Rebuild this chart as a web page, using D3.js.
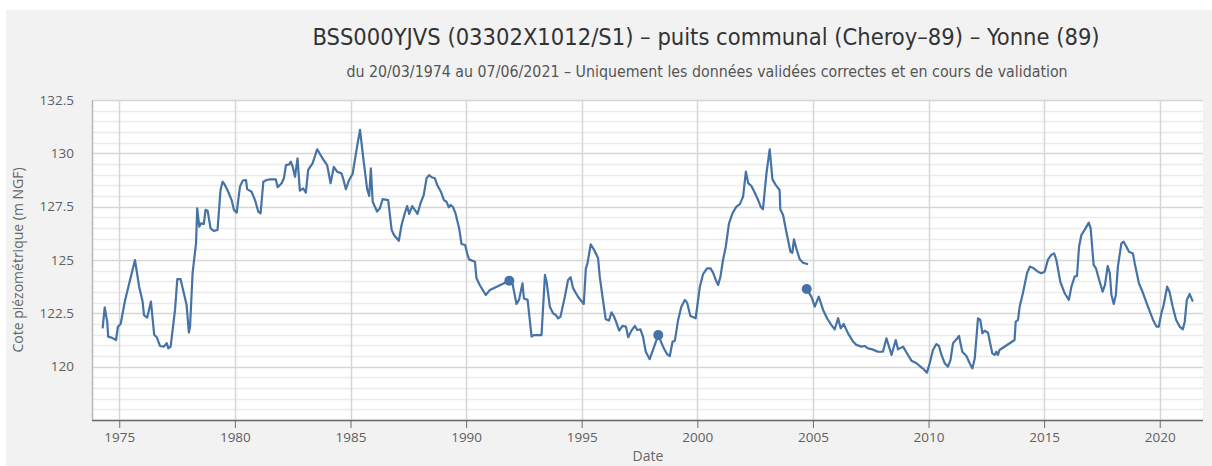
<!DOCTYPE html>
<html>
<head>
<meta charset="utf-8">
<script src="https://cdn.jsdelivr.net/npm/d3@7"></script>
<style>
body { margin: 0; background: #fff; }
svg { display: block; font-family: "Open Sans", "DejaVu Sans", sans-serif; }
.title { font-family: "Liberation Sans Narrow", "DejaVu Sans Condensed", sans-serif; }
</style>
</head>
<body>
<svg id="chart" width="1212" height="466"></svg>
<script>
/* data: decimal years and levels (m NGF) */
var seg1Years = [1974.28,1974.37,1974.48,1974.52,1974.67,1974.86,1974.94,1975.06,1975.25,1975.43,1975.68,1975.86,1976.01,1976.07,1976.21,1976.37,1976.51,1976.62,1976.76,1976.93,1977.05,1977.12,1977.22,1977.41,1977.51,1977.65,1977.91,1978.01,1978.06,1978.17,1978.32,1978.37,1978.46,1978.53,1978.66,1978.73,1978.82,1978.95,1979.09,1979.25,1979.38,1979.47,1979.57,1979.71,1979.86,1979.96,1980.08,1980.22,1980.34,1980.48,1980.53,1980.72,1980.87,1981.01,1981.11,1981.23,1981.37,1981.52,1981.77,1981.85,1982.02,1982.12,1982.21,1982.35,1982.42,1982.50,1982.60,1982.71,1982.81,1982.95,1983.07,1983.17,1983.36,1983.56,1983.68,1983.82,1983.99,1984.14,1984.28,1984.42,1984.61,1984.68,1984.80,1984.94,1985.09,1985.26,1985.41,1985.58,1985.72,1985.81,1985.88,1985.96,1986.15,1986.27,1986.39,1986.63,1986.78,1986.88,1987.09,1987.21,1987.35,1987.45,1987.54,1987.67,1987.90,1988.03,1988.17,1988.29,1988.40,1988.51,1988.65,1988.75,1988.91,1989.04,1989.15,1989.25,1989.33,1989.44,1989.54,1989.70,1989.80,1989.96,1990.05,1990.13,1990.38,1990.45,1990.59,1990.85,1991.03,1991.87,1992.00,1992.18,1992.29,1992.44,1992.50,1992.66,1992.83,1992.93,1993.26,1993.41,1993.48,1993.62,1993.76,1993.88,1993.98,1994.08,1994.27,1994.41,1994.52,1994.63,1994.84,1995.09,1995.18,1995.25,1995.39,1995.54,1995.71,1995.78,1995.90,1996.04,1996.18,1996.29,1996.40,1996.47,1996.62,1996.76,1996.91,1997.01,1997.15,1997.30,1997.40,1997.54,1997.65,1997.77,1997.94,1998.31,1998.55,1998.69,1998.81,1998.93,1999.03,1999.17,1999.31,1999.46,1999.56,1999.70,1999.93,2000.11,2000.25,2000.42,2000.57,2000.68,2000.80,2000.90,2001.00,2001.11,2001.23,2001.37,2001.52,2001.69,2001.84,2001.98,2002.10,2002.20,2002.34,2002.48,2002.63,2002.74,2002.84,2002.99,2003.13,2003.25,2003.39,2003.56,2003.59,2003.71,2003.86,2004.03,2004.11,2004.18,2004.28,2004.43,2004.57,2004.79];
var seg1Values = [121.8,122.78,122.1,121.4,121.36,121.25,121.87,122.0,123.1,123.9,125.0,123.75,123.05,122.42,122.3,123.05,121.5,121.38,120.97,120.94,121.1,120.86,120.94,122.66,124.1,124.1,122.9,121.6,121.87,124.38,125.78,127.42,126.56,126.72,126.69,127.35,127.31,126.48,126.36,126.41,128.28,128.67,128.52,128.2,127.81,127.35,127.22,128.44,128.72,128.75,128.32,128.2,127.81,127.27,127.19,128.67,128.75,128.78,128.78,128.41,128.6,128.83,129.45,129.48,129.61,129.37,128.9,129.76,128.25,128.36,128.16,129.22,129.53,130.19,129.97,129.72,129.45,128.6,129.37,129.14,129.06,128.83,128.32,128.75,129.03,130.16,131.1,129.53,128.32,128.0,129.3,127.73,127.27,127.42,127.85,127.81,126.41,126.17,125.9,126.64,127.19,127.53,127.16,127.53,127.16,127.66,128.05,128.83,128.98,128.88,128.83,128.52,128.2,127.81,127.73,127.47,127.58,127.47,127.19,126.48,125.75,125.7,125.28,125.03,124.92,124.14,123.83,123.36,123.59,124.03,123.94,122.94,123.13,123.91,123.2,123.13,121.41,121.48,121.48,124.3,123.98,122.81,122.5,122.42,122.27,122.34,123.28,124.06,124.19,123.67,123.28,122.94,124.61,124.84,125.73,125.47,125.08,124.22,123.28,122.22,122.16,122.55,122.34,122.16,121.69,121.91,121.88,121.38,121.69,121.91,121.72,121.75,121.41,120.7,120.35,121.48,120.86,120.59,120.5,121.17,121.22,122.19,122.81,123.13,123.0,122.38,122.27,123.75,124.34,124.61,124.61,124.41,124.06,123.83,124.22,125.0,125.62,126.72,127.19,127.5,127.62,127.97,129.14,128.6,128.47,128.16,127.81,127.5,127.38,129.06,130.19,128.78,128.52,128.28,127.38,127.11,126.28,125.39,125.34,125.97,125.55,125.03,124.87,124.8];

var seg2Years = [2004.73,2004.93,2005.08,2005.25,2005.44,2005.61,2005.80,2005.94,2006.09,2006.20,2006.33,2006.52,2006.71,2006.88,2007.10,2007.24,2007.38,2007.57,2007.81,2008.03,2008.18,2008.40,2008.58,2008.68,2008.90,2009.07,2009.26,2009.48,2009.69,2009.79,2009.93,2010.05,2010.19,2010.34,2010.45,2010.56,2010.70,2010.84,2010.95,2011.06,2011.21,2011.32,2011.46,2011.64,2011.78,2011.90,2012.00,2012.14,2012.24,2012.33,2012.43,2012.57,2012.76,2012.86,2012.93,2013.00,2013.07,2013.72,2013.77,2013.87,2013.94,2014.08,2014.26,2014.38,2014.55,2014.73,2014.88,2015.02,2015.17,2015.31,2015.43,2015.53,2015.70,2015.89,2016.07,2016.18,2016.32,2016.42,2016.51,2016.61,2016.75,2016.93,2017.01,2017.14,2017.24,2017.38,2017.53,2017.63,2017.75,2017.84,2017.91,2018.01,2018.10,2018.19,2018.34,2018.44,2018.56,2018.67,2018.84,2018.92,2019.10,2019.28,2019.49,2019.71,2019.86,2019.96,2020.07,2020.17,2020.32,2020.42,2020.56,2020.71,2020.86,2021.00,2021.08,2021.17,2021.29,2021.43];
var seg2Values = [123.64,123.28,122.81,123.28,122.66,122.27,121.95,121.75,122.27,121.8,122.0,121.56,121.22,121.02,120.94,120.97,120.86,120.81,120.7,120.7,121.33,120.55,121.25,120.81,120.94,120.62,120.28,120.16,119.97,119.88,119.72,120.16,120.78,121.06,120.97,120.55,120.16,120.0,120.31,121.1,121.28,121.44,120.7,120.5,120.16,119.92,120.39,122.27,122.19,121.56,121.69,121.59,120.62,120.55,120.7,120.55,120.78,121.25,122.11,122.19,122.81,123.44,124.38,124.69,124.61,124.45,124.38,124.45,125.03,125.24,125.31,125.0,123.98,123.44,123.13,123.75,124.22,124.25,125.62,126.17,126.41,126.75,126.48,124.77,124.61,124.06,123.52,123.83,124.72,124.38,123.36,122.94,123.36,124.69,125.78,125.86,125.62,125.39,125.31,124.84,123.91,123.44,122.81,122.19,121.88,121.88,122.5,122.89,123.75,123.52,122.81,122.19,121.88,121.75,122.11,123.13,123.41,123.05];

// points drawn with a marker
var markerYears = [1991.87, 1998.31, 2004.73];
var markerValues = [124.03, 121.48, 123.64];

var yTicks = [117.5, 120, 122.5, 125, 127.5, 130, 132.5];

var titleText = "BSS000YJVS (03302X1012/S1) \u2013 puits communal (Cheroy\u201389) \u2013 Yonne (89)";
var subtitleText = "du 20/03/1974 au 07/06/2021 \u2013 Uniquement les donn\u00e9es valid\u00e9es correctes et en cours de validation";

var W = 1212, H = 466;
var plot = {left: 92, top: 100, right: 1203, bottom: 420};

function decYear(y){
	var yr = Math.floor(y);
	var a = new Date(yr, 0, 1), b = new Date(yr + 1, 0, 1);
	return new Date(a.getTime() + (y - yr) * (b - a));
}

var svg = d3.select("#chart");

// grey panel
svg.append("rect").attr("x", 6).attr("y", 10).attr("width", W - 6).attr("height", H - 10).attr("fill", "#f2f2f2");

var x = d3.scaleTime()
	.domain([decYear(1973.82), decYear(2021.87)])
	.range([plot.left, plot.right]);

var y = d3.scaleLinear()
	.domain([117.5, 132.5])
	.range([plot.bottom, plot.top]);

svg.append("rect")
	.attr("x", plot.left).attr("y", plot.top)
	.attr("width", plot.right - plot.left).attr("height", plot.bottom - plot.top)
	.attr("fill", "#fff");

// minor horizontal grid every 0.5
var minor = d3.range(118, 132.5, 0.5).filter(function(v){ return Math.abs(v / 2.5 - Math.round(v / 2.5)) > 1e-6; });
svg.append("g").selectAll("line").data(minor).enter().append("line")
	.attr("x1", plot.left).attr("x2", plot.right)
	.attr("y1", function(d){ return Math.round(y(d)) + 0.5; })
	.attr("y2", function(d){ return Math.round(y(d)) + 0.5; })
	.attr("stroke", "#ebebeb").attr("stroke-width", 1.5);

// major horizontal grid
svg.append("g").selectAll("line").data(yTicks).enter().append("line")
	.attr("x1", plot.left).attr("x2", plot.right)
	.attr("y1", function(d){ return Math.round(y(d)) + 0.5; })
	.attr("y2", function(d){ return Math.round(y(d)) + 0.5; })
	.attr("stroke", "#d6d6d6").attr("stroke-width", 1.5);

var xTicks = x.ticks(d3.timeYear.every(5));

// vertical grid
svg.append("g").selectAll("line").data(xTicks).enter().append("line")
	.attr("x1", function(d){ return Math.round(x(d)) + 0.5; })
	.attr("x2", function(d){ return Math.round(x(d)) + 0.5; })
	.attr("y1", plot.top).attr("y2", plot.bottom)
	.attr("stroke", "#d6d6d6").attr("stroke-width", 1.5);

// left axis line
svg.append("line")
	.attr("x1", plot.left + 0.5).attr("x2", plot.left + 0.5)
	.attr("y1", plot.top).attr("y2", plot.bottom)
	.attr("stroke", "#b8b8b8").attr("stroke-width", 1.5);

// x axis
var xAxis = svg.append("g")
	.attr("transform", "translate(0," + plot.bottom + ")")
	.call(d3.axisBottom(x).tickValues(xTicks).tickFormat(d3.timeFormat("%Y")).tickSize(8).tickPadding(4));
xAxis.select(".domain").attr("stroke", "#6b6b6b").attr("stroke-width", 1.5)
	.attr("d", "M" + plot.left + ",0.5H" + plot.right);
xAxis.selectAll(".tick line").attr("stroke", "#6b6b6b");
xAxis.selectAll(".tick text").attr("fill", "#606060").attr("font-size", 13.5)
	.attr("font-family", "'Open Sans', sans-serif");

// y labels
svg.append("g").selectAll("text").data(yTicks.slice(1)).enter().append("text")
	.attr("x", 74).attr("y", function(d){ return y(d); })
	.attr("dy", "0.35em")
	.attr("text-anchor", "end")
	.attr("font-size", 13.5).attr("fill", "#606060")
	.text(function(d){ return d3.format("")(d); });

// y title
svg.append("text")
	.attr("transform", "translate(23," + ((plot.top + plot.bottom) / 2) + ") rotate(-90)")
	.attr("text-anchor", "middle")
	.attr("font-size", 14).attr("fill", "#666")
	.text("Cote pi\u00e9zom\u00e9trique (m NGF)");

// x title
svg.append("text")
	.attr("x", 648).attr("y", 461)
	.attr("text-anchor", "middle")
	.attr("font-size", 14).attr("fill", "#666")
	.text("Date");

// titles
svg.append("text").attr("class", "title")
	.attr("x", 706).attr("y", 45)
	.attr("text-anchor", "middle")
	.attr("font-size", 23.5).attr("fill", "#333")
	.text(titleText);

svg.append("text").attr("class", "title")
	.attr("x", 707).attr("y", 77)
	.attr("text-anchor", "middle")
	.attr("font-size", 15.8).attr("fill", "#555")
	.text(subtitleText);

// series
var line = d3.line()
	.x(function(d){ return x(decYear(d[0])); })
	.y(function(d){ return y(d[1]); });

var segments = [d3.zip(seg1Years, seg1Values), d3.zip(seg2Years, seg2Values)];

svg.append("g").selectAll("path").data(segments).enter().append("path")
	.attr("d", line)
	.attr("fill", "none")
	.attr("stroke", "#4572a7")
	.attr("stroke-width", 2.2)
	.attr("stroke-linejoin", "round");

svg.append("g").selectAll("circle").data(d3.zip(markerYears, markerValues)).enter().append("circle")
	.attr("cx", function(d){ return x(decYear(d[0])); })
	.attr("cy", function(d){ return y(d[1]); })
	.attr("r", 5)
	.attr("fill", "#4572a7");
</script>
</body>
</html>
